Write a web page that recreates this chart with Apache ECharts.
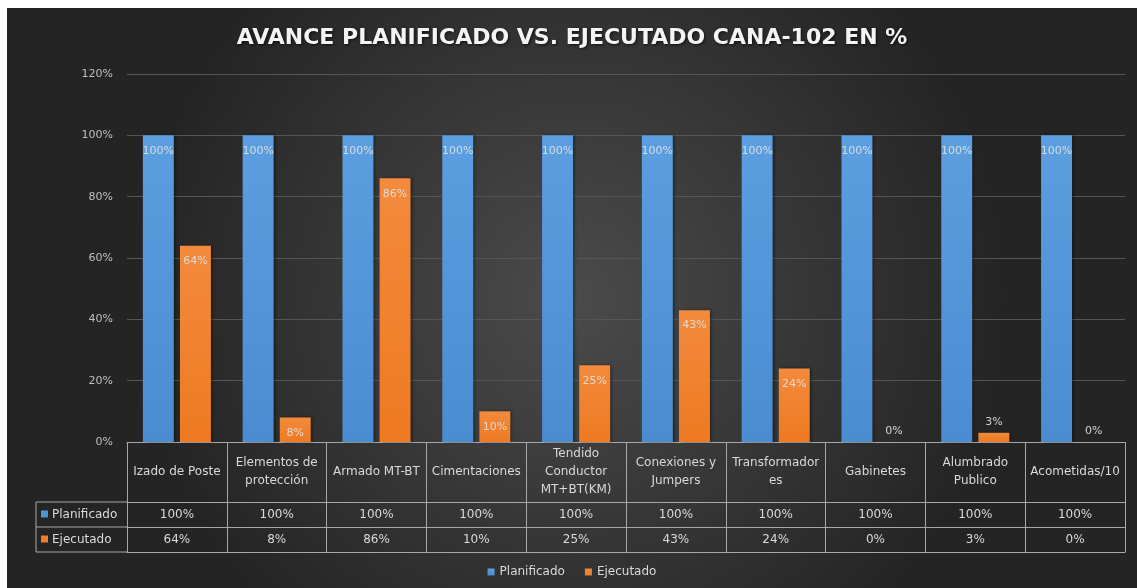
<!DOCTYPE html>
<html><head><meta charset="utf-8">
<script src="https://cdn.jsdelivr.net/npm/echarts@6/dist/echarts.min.js"></script>
<style>
html,body{margin:0;padding:0;background:#fff;}
#c{position:absolute;left:7px;top:8px;width:1130px;height:580px;}
</style></head>
<body><div id="c"></div>
<script>
const title = 'AVANCE PLANIFICADO VS. EJECUTADO CANA-102 EN %';
const categories = ['Izado de Poste','Elementos de\nprotección','Armado MT-BT','Cimentaciones','Tendido\nConductor\nMT+BT(KM)','Conexiones y\nJumpers','Transformador\nes','Gabinetes','Alumbrado\nPublico','Acometidas/10'];
const planificado = [1,1,1,1,1,1,1,1,1,1];
const ejecutado = [0.64,0.08,0.86,0.10,0.25,0.43,0.24,0,0.03,0];
const seriesNames = ['Planificado','Ejecutado'];
const yTicks = {min:0,max:1.2,interval:0.2};

const pct = v => Math.round(v*100)+'%';
const W = 1130, H = 580;
const G = {left:120, right:12, top:66, bottom:146};
const rowOff = [60, 85, 110];
const headerLeft = 29;
const lineColor = '#a8a8a8';
const txt = '#d9d9d9';
const FONT = 'DejaVu Sans';
const blue = new echarts.graphic.LinearGradient(0,0,0,1,[{offset:0,color:'#5b9fe0'},{offset:1,color:'#4a8cd0'}]);
const orange = new echarts.graphic.LinearGradient(0,0,0,1,[{offset:0,color:'#f38a3c'},{offset:1,color:'#ee7a22'}]);

function mkData(arr){
  return arr.map(v => ({value:v, label: v < 0.05 ? {position:'top', distance:5} : {}}));
}

const axisY = H - G.bottom;
const rowY = rowOff.map(o => axisY + o);
const graphic = [];
rowY.forEach(y => graphic.push({type:'line', shape:{x1:headerLeft,y1:y,x2:G.left,y2:y}, style:{stroke:lineColor,lineWidth:1}}));
graphic.push({type:'line', shape:{x1:headerLeft,y1:rowY[0],x2:headerLeft,y2:rowY[2]}, style:{stroke:lineColor,lineWidth:1}});
const cols = ['#4f94d8','#ef7d2a'];
[0,1].forEach(i=>{
  const yc = (rowY[i]+rowY[i+1])/2;
  graphic.push({type:'rect', shape:{x:headerLeft+5,y:yc-4,width:7,height:7}, style:{fill:cols[i]}});
  graphic.push({type:'text', style:{x:headerLeft+16,y:yc,text:seriesNames[i],fill:txt,font:'12px "DejaVu Sans"',textVerticalAlign:'middle'}});
});

const option = {
  backgroundColor: new echarts.graphic.RadialGradient(0.5,0.5,0.75,[{offset:0,color:'#4b4b4b'},{offset:1,color:'#242424'}]),
  title:{text:title,left:'center',top:14,textStyle:{color:'#f4f4f4',fontFamily:'DejaVu Sans',fontSize:22,fontWeight:'bold',textShadowColor:'rgba(0,0,0,0.7)',textShadowBlur:3,textShadowOffsetX:1,textShadowOffsetY:1}},
  legend:{bottom:5,left:'center',data:seriesNames,icon:'rect',itemWidth:7,itemHeight:7,itemGap:20,textStyle:{color:txt,fontSize:12,fontFamily:FONT}},
  grid:G,
  xAxis:[
    {type:'category',data:categories,position:'bottom',
     axisLine:{show:true,lineStyle:{color:lineColor,width:1}},
     axisTick:{show:true,interval:0,length:rowOff[2],lineStyle:{color:lineColor,width:1}},
     axisLabel:{interval:0,color:txt,fontSize:12,fontFamily:FONT,lineHeight:18,verticalAlign:'middle',margin:rowOff[0]/2}},
    {type:'category',data:planificado.map(pct),position:'bottom',offset:rowOff[0],
     axisLine:{show:true,lineStyle:{color:lineColor,width:1}},axisTick:{show:false},
     axisLabel:{interval:0,color:txt,fontSize:12,fontFamily:FONT,verticalAlign:'middle',margin:(rowOff[1]-rowOff[0])/2}},
    {type:'category',data:ejecutado.map(pct),position:'bottom',offset:rowOff[1],
     axisLine:{show:true,lineStyle:{color:lineColor,width:1}},axisTick:{show:false},
     axisLabel:{interval:0,color:txt,fontSize:12,fontFamily:FONT,verticalAlign:'middle',margin:(rowOff[2]-rowOff[1])/2}},
    {type:'category',data:categories.map(()=>''),position:'bottom',offset:rowOff[2],
     axisLine:{show:true,lineStyle:{color:lineColor,width:1}},axisTick:{show:false},axisLabel:{show:false}}
  ],
  yAxis:{type:'value',min:yTicks.min,max:yTicks.max,interval:yTicks.interval,
    axisLine:{show:false},axisTick:{show:false},
    axisLabel:{formatter:v=>Math.round(v*100)+'%',color:'#bfbfbf',fontSize:11,fontFamily:FONT,margin:14},
    splitLine:{lineStyle:{color:'#555555',width:1}}},
  series:[
    {name:seriesNames[0],type:'bar',data:mkData(planificado),barWidth:'31%',barGap:'20%',
     itemStyle:{color:blue,shadowColor:'rgba(0,0,0,0.4)',shadowBlur:3,shadowOffsetX:2},
     label:{show:true,position:'insideTop',distance:10,formatter:p=>pct(p.value),color:'rgba(225,225,225,0.9)',fontSize:11,fontFamily:FONT}},
    {name:seriesNames[1],type:'bar',data:mkData(ejecutado),barWidth:'31%',
     itemStyle:{color:orange,shadowColor:'rgba(0,0,0,0.4)',shadowBlur:3,shadowOffsetX:2},
     label:{show:true,position:'insideTop',distance:10,formatter:p=>pct(p.value),color:'rgba(225,225,225,0.9)',fontSize:11,fontFamily:FONT}}
  ],
  graphic:graphic,
  animation:false
};
const chart = echarts.init(document.getElementById('c'));
chart.setOption(option);
</script></body></html>
